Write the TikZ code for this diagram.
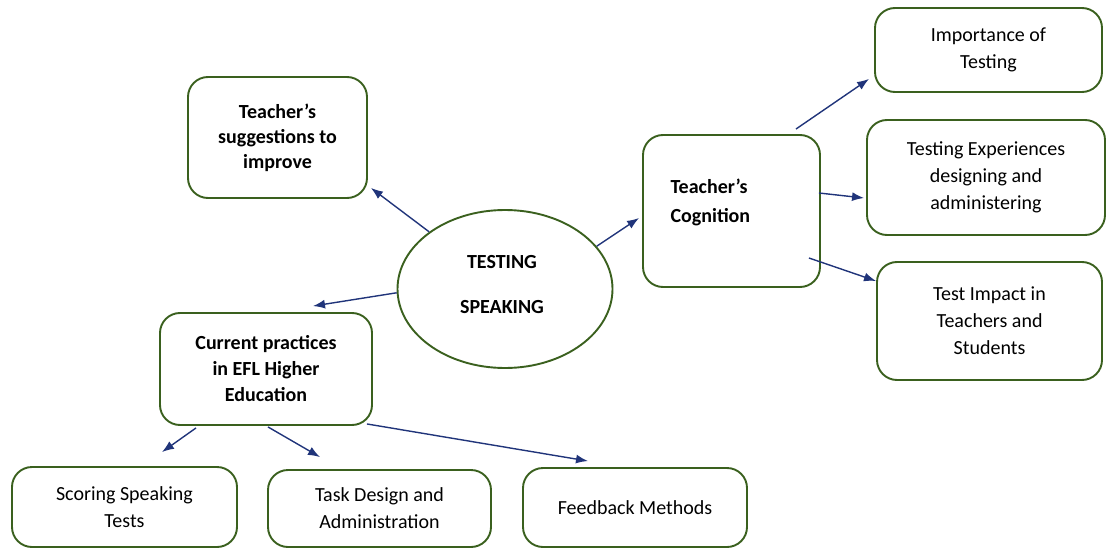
\documentclass[tikz,border=0pt]{standalone}
\usepackage{fontspec}
\setmainfont{Carlito}
\usetikzlibrary{arrows.meta,shapes.geometric}
\definecolor{boxgreen}{RGB}{58,96,30}
\definecolor{arrowblue}{RGB}{32,52,122}

\begin{document}
\begin{tikzpicture}[x=1pt,y=-1pt,
  box/.style={draw=boxgreen,line width=1.9pt,rounded corners=20pt,align=center,
    font=\fontsize{20}{27}\selectfont,inner sep=0pt},
  bbox/.style={box,font=\fontsize{20}{26}\selectfont\bfseries},
  link/.style={->,>={Latex[length=12pt,width=9pt]},line width=1.4pt,draw=arrowblue}]

\useasboundingbox (0,0) rectangle (1107,548);

% centre
\node[draw=boxgreen,line width=1.9pt,ellipse,minimum width=215pt,minimum height=158pt,
  inner sep=0pt] (centre) at (505,289) {};
\node[font=\fontsize{20}{26}\selectfont\bfseries,align=center] (centretxt) at (502,284.5)
  {TESTING\\[19pt]SPEAKING};

% left side
\node[bbox,minimum width=179pt,minimum height=121pt] (sugg) at (277.5,137.5)
  {Teacher’s\\[-1pt]suggestions to\\[-1pt]improve};
\node[bbox,minimum width=212pt,minimum height=112pt] (curr) at (266,369)
  {Current practices\\in EFL Higher\\Education};

% right side
\node[box,minimum width=177pt,minimum height=152pt] (cogn) at (731.5,211) {};
\node[font=\fontsize{20}{29}\selectfont\bfseries,align=left,anchor=west] (cogntxt)
  at (667,202.5) {Teacher’s\\Cognition};
\node[box,minimum width=227pt,minimum height=84pt] (impo) at (988.5,50)
  {Importance of\\Testing};
\node[box,minimum width=238pt,minimum height=115pt] (expe) at (986,177.5)
  {Testing Experiences\\designing and\\administering};
\node[box,minimum width=225pt,minimum height=118pt] (impa) at (989.5,321)
  {Test Impact in\\Teachers and\\Students};

% bottom row
\node[box,minimum width=225pt,minimum height=80pt] (scor) at (124.5,507)
  {Scoring Speaking\\Tests};
\node[box,minimum width=223pt,minimum height=77pt] (task) at (379.5,508.5)
  {Task Design and\\Administration};
\node[box,minimum width=224pt,minimum height=79pt] (feed) at (635,507.5)
  {Feedback Methods};

% arrows out of the centre
\draw[link] (centre.143) -- ([xshift=3pt,yshift=11pt]sugg.south east);
\draw[link] (centre.25) -- ([xshift=-3pt,yshift=-7pt]cogn.west);
\draw[link] (centre.182) -- ([xshift=47pt,yshift=6pt]curr.north);

% cognition branches
\draw[link] ([xshift=-25pt,yshift=5pt]cogn.north east) -- ([xshift=-5pt,yshift=14pt]impo.south west);
\draw[link] ([xshift=-2pt,yshift=18pt]cogn.east) -- ([xshift=-2pt,yshift=-20.5pt]expe.west);
\draw[link] ([xshift=-12pt,yshift=-47pt]cogn.east) -- ([xshift=0pt,yshift=40pt]impa.west);

% practice branches
\draw[link] ([xshift=-70pt,yshift=-2pt]curr.south) -- ([xshift=37.5pt,yshift=14pt]scor.north);
\draw[link] ([xshift=2pt,yshift=-1pt]curr.south) -- ([xshift=-59.5pt,yshift=12pt]task.north);
\draw[link] ([xshift=-6pt,yshift=2pt]curr.south east) -- ([xshift=-47pt,yshift=6pt]feed.north);

\end{tikzpicture}
\end{document}
